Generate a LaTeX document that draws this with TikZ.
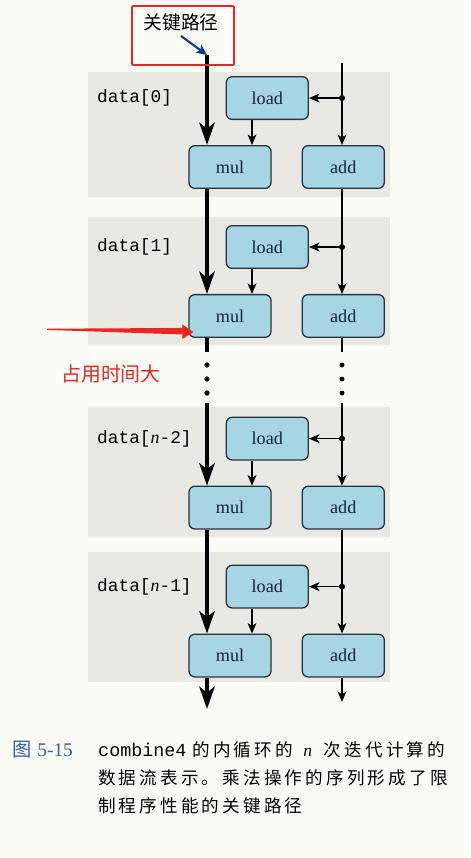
\documentclass[tikz,border=0pt]{standalone}
\usepackage{fontspec}
\setmainfont{Liberation Serif}
\setmonofont{Liberation Mono}
\newfontfamily\cjk{Noto Sans CJK SC}
\newfontfamily\cjkcap[LetterSpace=18]{Noto Sans CJK SC}
\usetikzlibrary{positioning, arrows.meta, calc}

\definecolor{paper}{RGB}{252,252,247}
\definecolor{bandgray}{RGB}{233,232,227}
\definecolor{boxfill}{RGB}{166,213,227}
\definecolor{boxline}{RGB}{40,50,62}
\definecolor{boxtext}{RGB}{22,32,58}
\definecolor{alert}{RGB}{232,38,34}
\definecolor{pointblue}{RGB}{22,52,150}
\definecolor{capblue}{RGB}{52,92,168}

\begin{document}
\begin{tikzpicture}[
        x=0.03cm, y=-0.03cm,
        opbox/.style={
            rectangle,
            rounded corners=5pt,
            draw=boxline,
            fill=boxfill,
            line width=1.1pt,
            minimum width=2.46cm,
            minimum height=1.28cm,
            inner sep=0pt,
            text=boxtext,
            font=\fontsize{15.5}{18}\selectfont
        },
        datalbl/.style={
            anchor=west,
            inner sep=0pt,
            font=\ttfamily\fontsize{15.2}{18}\selectfont
        },
        band/.style={fill=bandgray},
        critline/.style={
            line width=3.8pt,
            -{Stealth[length=19pt,width=13pt,inset=5pt]}
        },
        critstub/.style={line width=3.8pt},
        feedline/.style={
            line width=1.3pt,
            -{Stealth[length=9pt,width=7.5pt,inset=2.5pt]}
        },
        feedstub/.style={line width=1.3pt}
    ]

    % page and shaded iterations
    \fill[paper] (0,0) rectangle (470,858);
    \useasboundingbox (0,0) rectangle (470,858);
    \fill[band] (88,72) rectangle (390,197);
    \fill[band] (88,217) rectangle (390,345);
    \fill[band] (88,407) rectangle (390,537);
    \fill[band] (88,552) rectangle (390,682);

    % lanes
    \coordinate (crit) at (207,55);
    \coordinate (feed) at (342,63);
    \coordinate (ldx) at (252,0);
    \coordinate (lblx) at (97,0);

    % iterations
    \node[opbox] (mul0) at (230,167) {mul};
    \node[opbox, right=0.9cm of mul0] (add0) {add};
    \node[opbox, above right=0.75cm and -1.38cm of mul0] (load0) {load};

    \node[opbox, below=3.15cm of mul0] (mul1) {mul};
    \node[opbox, right=0.9cm of mul1] (add1) {add};
    \node[opbox, above right=0.75cm and -1.38cm of mul1] (load1) {load};

    \node[opbox, below=4.43cm of mul1] (mul2) {mul};
    \node[opbox, right=0.9cm of mul2] (add2) {add};
    \node[opbox, above right=0.75cm and -1.38cm of mul2] (load2) {load};

    \node[opbox, below=3.12cm of mul2] (mul3) {mul};
    \node[opbox, right=0.9cm of mul3] (add3) {add};
    \node[opbox, above right=0.75cm and -1.38cm of mul3] (load3) {load};

    \node[datalbl] (d0) at (lblx |- load0) {data[0]};
    \node[datalbl] (d1) at (lblx |- load1) {data[1]};
    \node[datalbl] (d2) at (lblx |- load2) {data[{\rmfamily\itshape n}-2]};
    \node[datalbl] (d3) at (lblx |- load3) {data[{\rmfamily\itshape n}-1]};

    % critical path (mul chain)
    \draw[critline] (crit) -- (crit |- mul0.north);
    \draw[critline] (crit |- mul0.south) -- (crit |- mul1.north);
    \draw[critstub] (crit |- mul1.south) -- (207,352);
    \draw[critline] (207,403) -- (crit |- mul2.north);
    \draw[critline] (crit |- mul2.south) -- (crit |- mul3.north);
    \draw[critline] (crit |- mul3.south) -- (207,709);

    % add chain
    \draw[feedline] (feed) -- (feed |- add0.north);
    \draw[feedline] (feed |- add0.south) -- (feed |- add1.north);
    \draw[feedstub] (feed |- add1.south) -- (342,352);
    \draw[feedline] (342,403) -- (feed |- add2.north);
    \draw[feedline] (feed |- add2.south) -- (feed |- add3.north);
    \draw[feedline] (feed |- add3.south) -- (342,702);

    % pointer into each load, load into mul
    \foreach \i in {0,1,2,3} {
        \coordinate (j\i) at (feed |- load\i.east);
        \fill (j\i) circle (2.6pt);
        \draw[feedline] (j\i) -- (load\i.east);
        \draw[feedline] (ldx |- load\i.south) -- (ldx |- mul\i.north);
    }

    % elided iterations
    \foreach \y in {365,379,393} {
        \fill (207,\y) circle (2.3pt);
        \fill (342,\y) circle (2.1pt);
    }

    % annotations
    \node[draw=alert, line width=1.6pt, rounded corners=1pt,
          minimum width=3.06cm, minimum height=1.77cm] (critbox) at (183,35.5) {};
    \node[font=\cjk\fontsize{16}{19}\selectfont, inner sep=0pt] (critlbl) at (181,22) {关键路径};
    \draw[pointblue, line width=1.8pt, -{Stealth[length=9pt,width=8pt,inset=2pt]}]
        ($(critlbl.south)+(0,5)$) -- (crit);

    \coordinate (hottail) at (47,329.3);
    \coordinate (hot) at ($(mul1.west)+(5,16)$);
    \fill[alert] ($(hottail)+(0,-0.6)$) -- ($(hot)+(-11,-4)$) -- ($(hot)+(-11,-7.5)$)
        -- (hot) -- ($(hot)+(-11,7)$) -- ($(hot)+(-11,2.5)$) -- ($(hottail)+(0,0.6)$) -- cycle;
    \node[text=alert, font=\cjk\fontsize{17}{20}\selectfont, inner sep=0pt] (hotlbl) at (111,374) {占用时间大};

    % caption
    \node[anchor=base west, inner sep=0pt, text=capblue,
          font=\fontsize{16.5}{19}\selectfont] (fignum) at (12,756) {{\cjk 图}\hspace{5pt}5-15};
    \node[anchor=base west, inner sep=0pt, font=\cjkcap\fontsize{15}{18}\selectfont] (cap1) at (98,756)
        {{\ttfamily\fontsize{15.7}{18}\selectfont combine4}\hspace{5pt}的内循环的\hspace{9pt}{\rmfamily\itshape n}\hspace{10pt}次迭代计算的};
    \node[anchor=base west, inner sep=0pt, font=\cjkcap\fontsize{15}{18}\selectfont] (cap2) at (98,784)
        {数据流表示。乘法操作的序列形成了限};
    \node[anchor=base west, inner sep=0pt, font=\cjkcap\fontsize{15}{18}\selectfont] (cap3) at (98,812)
        {制程序性能的关键路径};

\end{tikzpicture}
\end{document}
